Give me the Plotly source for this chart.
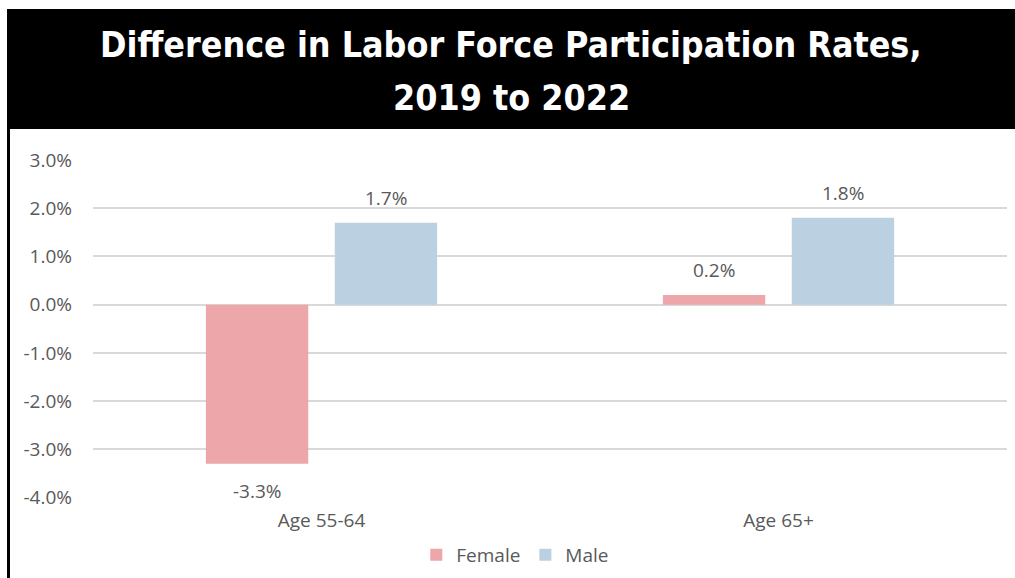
import plotly.graph_objects as go

# Change in labor force participation rate (percentage points), 2019 -> 2022
categories = ["Age 55-64", "Age 65+"]
female = [-3.3, 0.2]
male = [1.7, 1.8]
y_ticks = [-4, -3, -2, -1, 0, 1, 2, 3]
y_tick_text = ["-4.0%", "-3.0%", "-2.0%", "-1.0%", "0.0%", "1.0%", "2.0%", "3.0%"]

FEMALE_COLOR = "#EDA6A9"
MALE_COLOR = "#BBD1E2"
TEXT_GRAY = "#595959"
GRID = "#D9D9D9"
LABEL_FONT = "Open Sans, Noto Sans, sans-serif"
LABEL_SIZE = 19

x_pos = list(range(len(categories)))
bar_width = 0.224

fig = go.Figure()
fig.add_trace(go.Bar(
    name="Female", x=x_pos, y=female, width=bar_width, offset=-0.253,
    marker=dict(color=FEMALE_COLOR, line=dict(width=0)),
))
fig.add_trace(go.Bar(
    name="Male", x=x_pos, y=male, width=bar_width, offset=0.029,
    marker=dict(color=MALE_COLOR, line=dict(width=0)),
))

# value labels, placed above positive bars and below negative ones
annotations = []
for series, centre in ((female, -0.141), (male, 0.141)):
    for i, v in enumerate(series):
        annotations.append(dict(
            x=x_pos[i] + centre, y=v, xref="x", yref="y",
            text=f"{v:.1f}%", showarrow=False,
            yanchor="middle", yshift=25 if v >= 0 else -27,
            font=dict(family=LABEL_FONT, size=LABEL_SIZE, color=TEXT_GRAY),
        ))

# two-line title on the black header band
TITLE_FONT = dict(family="DejaVu Sans Condensed, sans-serif",
                  size=35.5, color="white", weight="bold")
for text, py in (("Difference in Labor Force Participation Rates,", 45), ("2019 to 2022", 97)):
    annotations.append(dict(
        x=(511 - 93) / 914, y=(498 - py) / 338, xref="paper", yref="paper",
        text=text, showarrow=False, xanchor="center", yanchor="middle",
        font=TITLE_FONT,
    ))

shapes = [
    # header band
    dict(type="rect", xref="paper", yref="paper",
         x0=(7 - 93) / 914, x1=(1015 - 93) / 914,
         y0=(498 - 129) / 338, y1=(498 - 9) / 338,
         fillcolor="black", line=dict(width=0), layer="below"),
    # left frame line
    dict(type="rect", xref="paper", yref="paper",
         x0=(7 - 93) / 914, x1=(10 - 93) / 914,
         y0=(498 - 578) / 338, y1=(498 - 129) / 338,
         fillcolor="black", line=dict(width=0), layer="below"),
]

fig.update_layout(
    width=1015, height=578,
    margin=dict(l=93, r=8, t=160, b=80, autoexpand=False),
    paper_bgcolor="white", plot_bgcolor="white",
    barmode="overlay",
    showlegend=True,
    legend=dict(orientation="h", x=0.462, xanchor="center",
                yref="container", y=(578 - 555) / 578, yanchor="middle",
                font=dict(family=LABEL_FONT, size=LABEL_SIZE, color=TEXT_GRAY),
                itemwidth=30, traceorder="normal"),
    annotations=annotations,
    shapes=shapes,
    xaxis=dict(range=[-0.5, 1.5], tickvals=x_pos, ticktext=categories,
               showgrid=False, zeroline=False, showline=False, ticks="",
               tickfont=dict(family=LABEL_FONT, size=LABEL_SIZE, color=TEXT_GRAY),
               ticklabelstandoff=9, fixedrange=True),
    yaxis=dict(range=[-4.01, 3], tickvals=y_ticks, ticktext=y_tick_text,
               showgrid=True, gridcolor=GRID, gridwidth=2,
               zeroline=True, zerolinecolor=GRID, zerolinewidth=2,
               showline=False, ticks="",
               tickfont=dict(family=LABEL_FONT, size=LABEL_SIZE, color=TEXT_GRAY),
               ticklabelstandoff=20, fixedrange=True),
)

fig.write_html("out.html")
